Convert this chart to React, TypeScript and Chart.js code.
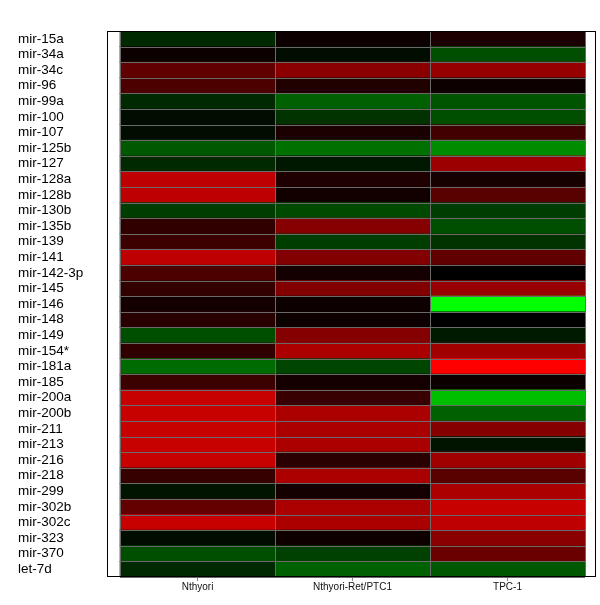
import React, { useEffect, useRef } from "react";
import { Chart, registerables } from "chart.js";

Chart.register(...registerables);

const genes = [
  "mir-15a", "mir-34a", "mir-34c", "mir-96", "mir-99a", "mir-100", "mir-107",
  "mir-125b", "mir-127", "mir-128a", "mir-128b", "mir-130b", "mir-135b", "mir-139",
  "mir-141", "mir-142-3p", "mir-145", "mir-146", "mir-148", "mir-149", "mir-154*",
  "mir-181a", "mir-185", "mir-200a", "mir-200b", "mir-211", "mir-213", "mir-216",
  "mir-218", "mir-299", "mir-302b", "mir-302c", "mir-323", "mir-370", "let-7d",
];

const samples = ["Nthyori", "Nthyori-Ret/PTC1", "TPC-1"];

// positive = red (up), negative = green (down), scaled -1..1
const nthyori = [
  -0.16, 0.05, 0.38, 0.3, -0.16, -0.05, -0.05, -0.35, -0.16, 0.75, 0.75, -0.24,
  0.19, 0.24, 0.75, 0.3, 0.2, 0.08, 0.16, -0.31, 0.19, -0.42, 0.23, 0.78, 0.78,
  0.78, 0.78, 0.78, 0.21, -0.08, 0.39, 0.78, -0.05, -0.31, -0.16,
];

const nthyoriRetPtc1 = [
  0.05, -0.05, 0.54, 0.13, -0.38, -0.2, 0.1, -0.44, -0.09, 0.12, 0.07, -0.29,
  0.53, -0.24, 0.51, 0.08, 0.51, 0.05, 0.05, 0.52, 0.67, -0.27, 0.08, 0.22, 0.67,
  0.67, 0.67, 0.17, 0.67, 0.08, 0.67, 0.67, 0.06, -0.25, -0.38,
];

const tpc1 = [
  0.1, -0.31, 0.59, 0.05, -0.33, -0.31, 0.26, -0.55, 0.61, 0.09, 0.35, -0.24,
  -0.31, -0.2, 0.38, 0.0, 0.6, -1.0, 0.0, -0.1, 0.63, 1.0, 0.05, -0.75, -0.38,
  0.52, -0.08, 0.63, 0.35, 0.67, 0.78, 0.75, 0.54, 0.42, -0.35,
];

const seriesValues = [nthyori, nthyoriRetPtc1, tpc1];

function heatColor(v: number): string {
  const c = Math.round(Math.min(1, Math.abs(v)) * 255);
  return v >= 0 ? `rgb(${c},0,0)` : `rgb(0,${c},0)`;
}

const FONT = "'Liberation Sans', Arial, Helvetica, sans-serif";

const cellGrid = {
  id: "cellGrid",
  afterDatasetsDraw(chart: any) {
    const { ctx } = chart;
    const xs = chart.scales.x;
    const ys = chart.scales.y;
    const x0 = xs.getPixelForValue(0);
    const x1 = xs.getPixelForValue(samples.length);
    const y0 = ys.getPixelForValue(-0.5);
    const y1 = ys.getPixelForValue(genes.length - 0.5);
    ctx.save();
    ctx.strokeStyle = "#6a6a6a";
    ctx.lineWidth = 1;
    ctx.beginPath();
    for (let k = 0; k <= genes.length; k++) {
      const y = Math.round(ys.getPixelForValue(k - 0.5)) + 0.5;
      ctx.moveTo(x0, y);
      ctx.lineTo(x1, y);
    }
    for (let i = 0; i <= samples.length; i++) {
      const x = Math.round(xs.getPixelForValue(i)) + 0.5;
      ctx.moveTo(x, y0);
      ctx.lineTo(x, y1);
    }
    ctx.stroke();
    ctx.restore();
  },
  afterDraw(chart: any) {
    const { ctx, chartArea } = chart;
    ctx.save();
    ctx.strokeStyle = "#000";
    ctx.lineWidth = 1;
    ctx.strokeRect(
      chartArea.left + 0.5,
      chartArea.top + 0.5,
      chartArea.right - chartArea.left - 1,
      chartArea.bottom - chartArea.top - 1
    );
    ctx.restore();
  },
};

export default function App() {
  const ref = useRef<HTMLCanvasElement | null>(null);

  useEffect(() => {
    if (!ref.current) return;
    const datasets = samples.map((name, i) => ({
      label: name,
      data: genes.map(() => [i, i + 1]),
      backgroundColor: seriesValues[i].map(heatColor),
      borderWidth: 0,
      barPercentage: 1,
      categoryPercentage: 1,
      grouped: false,
    }));
    const chart = new Chart(ref.current, {
      type: "bar",
      data: { labels: genes, datasets: datasets as any },
      options: {
        indexAxis: "y",
        animation: false,
        responsive: false,
        devicePixelRatio: 1,
        layout: { padding: { left: 18, top: 31, right: 4, bottom: 0 } },
        plugins: {
          legend: { display: false },
          tooltip: { enabled: false },
        },
        scales: {
          x: {
            type: "linear",
            position: "bottom",
            min: -0.084,
            max: 3.071,
            grid: {
              display: true,
              drawOnChartArea: false,
              drawTicks: true,
              tickLength: 4,
              color: "#888",
            },
            border: { display: false },
            afterBuildTicks: (scale: any) => {
              scale.ticks = samples.map((_, i) => ({ value: i + 0.5 }));
            },
            afterFit: (scale: any) => {
              scale.height = 28;
            },
            ticks: {
              autoSkip: false,
              maxRotation: 0,
              padding: 0,
              color: "#111",
              font: { family: FONT, size: 10 },
              callback: (_v: any, idx: number) => samples[idx],
            },
          },
          y: {
            type: "category",
            offset: true,
            grid: { display: false },
            border: { display: false },
            afterFit: (scale: any) => {
              scale.width = 89;
            },
            ticks: {
              autoSkip: false,
              crossAlign: "far",
              padding: 0,
              color: "#000",
              font: { family: FONT, size: 13.5 },
            },
          },
        },
      } as any,
      plugins: [cellGrid],
    });
    return () => chart.destroy();
  }, []);

  return (
    <div style={{ position: "absolute", left: 0, top: 0, width: 600, height: 605, background: "#fff" }}>
      <canvas ref={ref} width={600} height={605} style={{ width: 600, height: 605 }} />
    </div>
  );
}
